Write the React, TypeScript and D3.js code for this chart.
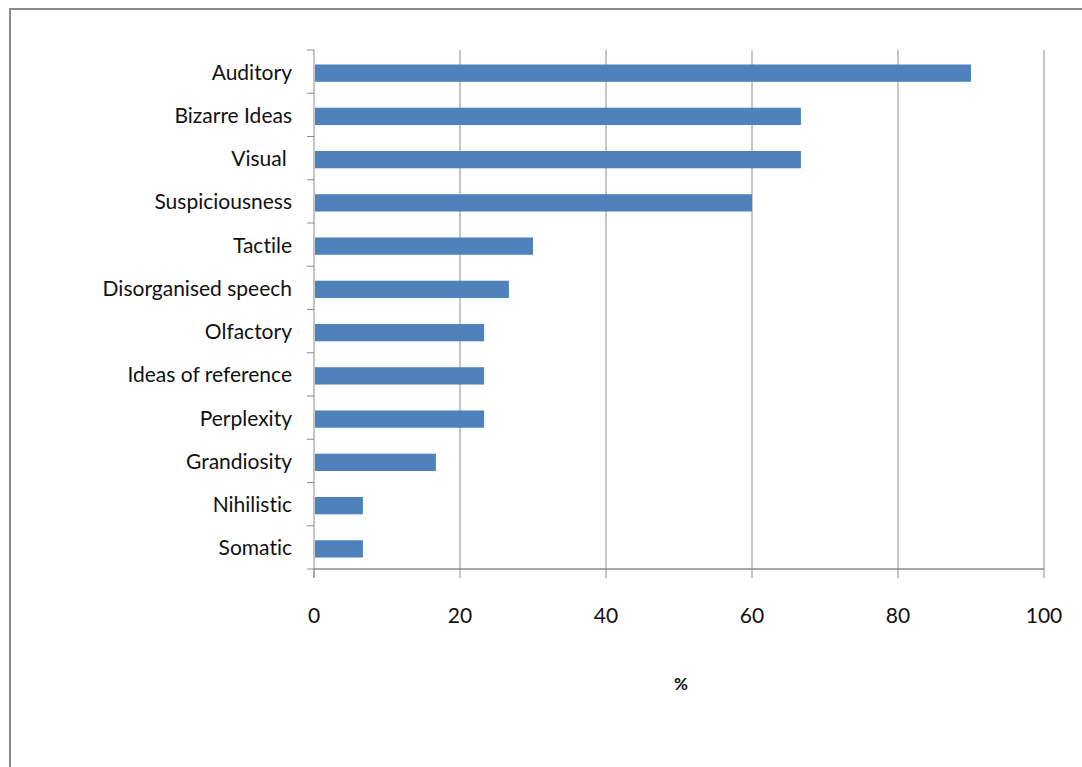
import React from "react";
import * as d3 from "d3";

const categories = [
  "Auditory",
  "Bizarre Ideas",
  "Visual ",
  "Suspiciousness",
  "Tactile",
  "Disorganised speech",
  "Olfactory",
  "Ideas of reference",
  "Perplexity",
  "Grandiosity",
  "Nihilistic",
  "Somatic",
];
const values = [90, 66.7, 66.7, 60, 30, 26.7, 23.3, 23.3, 23.3, 16.7, 6.7, 6.7];
const xTicks = [0, 20, 40, 60, 80, 100];
const xTitle = "%";

export default function App() {
  const W = 1082, H = 767;
  const left = 314, right = 1044, top = 50, bottom = 569;
  const x = d3.scaleLinear().domain([0, 100]).range([left, right]);
  const y = d3.scaleBand<string>().domain(categories).range([top, bottom]).paddingInner(0.6).paddingOuter(0.3);
  const band = d3.scaleBand<string>().domain(categories).range([top, bottom]);
  const font = "Lato, 'Open Sans', sans-serif";
  const grid = "#8c8c8c";
  const textStyle: React.CSSProperties = { whiteSpace: "pre", fontVariantLigatures: "none" };
  const boundaries = d3.range(categories.length + 1).map((i) => top + i * band.step());
  return (
    <svg width={W} height={H} style={{ position: "absolute", left: 0, top: 0, background: "#fff" }}>
      <rect x={10} y={9} width={W + 20} height={H + 20} fill="#fff" stroke="#8a8a8a" strokeWidth={2} />
      {xTicks.map((t) => (
        <g key={t}>
          {t > 0 && <line x1={x(t)} x2={x(t)} y1={top} y2={bottom} stroke={grid} strokeWidth={1} />}
          <line x1={x(t)} x2={x(t)} y1={bottom} y2={bottom + 9} stroke={grid} strokeWidth={1} />
          <text x={x(t)} y={623} textAnchor="middle" fontFamily={font} fontSize={21} fill="#111" style={textStyle}>{t}</text>
        </g>
      ))}
      {boundaries.map((b, i) => (
        <line key={i} x1={left - 7} x2={left} y1={b} y2={b} stroke={grid} strokeWidth={1} />
      ))}
      <line x1={left} x2={left} y1={top} y2={bottom + 9} stroke={grid} strokeWidth={1} />
      <line x1={left} x2={right} y1={bottom} y2={bottom} stroke={grid} strokeWidth={1.5} />
      {categories.map((c, i) => (
        <g key={c}>
          <rect x={x(0) + 1} y={(y(c) as number) + 1.5} width={x(values[i]) - x(0) - 1} height={y.bandwidth()} fill="#4f81bd" />
          <text x={292} y={(band(c) as number) + band.step() / 2 + 8} textAnchor="end" fontFamily={font} fontSize={21} fill="#111" style={textStyle}>{c}</text>
        </g>
      ))}
      <text x={681} y={690} textAnchor="middle" fontFamily={font} fontSize={17} fontWeight="bold" fill="#111">{xTitle}</text>
    </svg>
  );
}
